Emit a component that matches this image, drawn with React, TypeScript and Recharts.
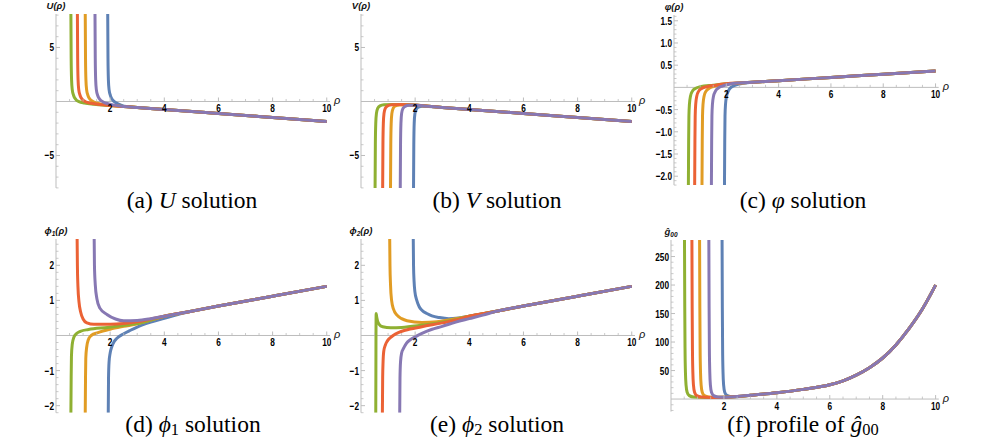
import React from 'react';
import { LineChart, Line, XAxis, YAxis, ReferenceLine, ReferenceDot } from 'recharts';

// ---------- colours ----------
const BLUE = '#5E81B5';
const ORANGE = '#E19C24';
const GREEN = '#8FB032';
const RED = '#EB6235';
const PURPLE = '#8778B3';
const AXIS = '#bdbdbd';

// ---------- tick labels ----------
const X_MAJOR = [2, 4, 6, 8, 10];
const Y_MAJOR_UV = [-5, 5];
const Y_MAJOR_PHI = [-2.0, -1.5, -1.0, -0.5, 0.5, 1.0, 1.5];
const Y_MAJOR_F = [-2, -1, 1, 2];
const Y_MAJOR_G = [50, 100, 150, 200, 250];

// ---------- (a) U ----------
const U_TAIL = [[3, -0.55], [4, -0.74], [6, -1.11], [8, -1.48], [10, -1.85]];
const U_BLUE = [[1.91, 8.1], [1.92, 4], [1.935, 2], [1.96, 1.1], [2.01, 0.55], [2.09, 0.15], [2.21, -0.12], [2.4, -0.33], [2.6, -0.47]];
const U_ORANGE = [[1.08, 8.1], [1.09, 4], [1.105, 2], [1.13, 1.1], [1.18, 0.55], [1.26, 0.2], [1.38, -0.03], [1.6, -0.2], [2, -0.37], [2.5, -0.46]];
const U_GREEN = [[0.55, 8.1], [0.56, 4], [0.575, 2], [0.6, 1.1], [0.65, 0.55], [0.73, 0.2], [0.85, -0.02], [1.05, -0.15], [1.4, -0.26], [2, -0.37], [2.5, -0.46]];
const U_RED = [[0.79, 8.1], [0.8, 4], [0.815, 2], [0.84, 1.1], [0.89, 0.55], [0.97, 0.2], [1.09, -0.02], [1.3, -0.16], [1.6, -0.28], [2, -0.37], [2.5, -0.46]];
const U_PURPLE = [[1.44, 8.1], [1.45, 4], [1.465, 2], [1.49, 1.1], [1.54, 0.55], [1.62, 0.2], [1.74, -0.04], [1.95, -0.22], [2.2, -0.36], [2.5, -0.46]];

// ---------- (b) V ----------
const V_TAIL = [[3, -0.55], [4, -0.74], [6, -1.11], [8, -1.48], [10, -1.85]];
const V_BLUE = [[1.94, -8], [1.95, -4], [1.965, -2], [1.99, -1.15], [2.04, -0.72], [2.12, -0.52], [2.27, -0.44], [2.5, -0.46]];
const V_ORANGE = [[1.09, -8], [1.1, -4], [1.115, -2], [1.14, -1.1], [1.19, -0.62], [1.27, -0.41], [1.42, -0.32], [1.7, -0.3], [2, -0.34], [2.5, -0.45]];
const V_GREEN = [[0.52, -8], [0.53, -4], [0.545, -2], [0.57, -1.1], [0.62, -0.62], [0.7, -0.4], [0.85, -0.3], [1.2, -0.27], [1.6, -0.28], [2, -0.33], [2.5, -0.45]];
const V_RED = [[0.8, -8], [0.81, -4], [0.825, -2], [0.85, -1.1], [0.9, -0.62], [0.98, -0.4], [1.13, -0.3], [1.45, -0.27], [2, -0.33], [2.5, -0.45]];
const V_PURPLE = [[1.45, -8], [1.46, -4], [1.475, -2], [1.5, -1.1], [1.55, -0.65], [1.63, -0.45], [1.78, -0.36], [2.05, -0.35], [2.5, -0.45]];

// ---------- (c) varphi ----------
const P_TAIL = [[3, 0.115], [4, 0.15], [6, 0.225], [8, 0.295], [10, 0.37]];
const P_BLUE = [[1.93, -2.2], [1.94, -1.2], [1.95, -0.65], [1.97, -0.38], [2.01, -0.2], [2.08, -0.08], [2.18, 0.0], [2.35, 0.05], [2.6, 0.09]];
const P_ORANGE = [[1.07, -2.2], [1.08, -1.2], [1.09, -0.65], [1.11, -0.38], [1.15, -0.2], [1.22, -0.09], [1.32, -0.03], [1.5, 0.02], [1.8, 0.06], [2.1, 0.08], [2.5, 0.1]];
const P_GREEN = [[0.55, -2.2], [0.56, -1.2], [0.57, -0.65], [0.59, -0.38], [0.63, -0.2], [0.7, -0.09], [0.8, -0.03], [1, 0.015], [1.5, 0.05], [2, 0.08], [2.5, 0.1]];
const P_RED = [[0.79, -2.2], [0.8, -1.2], [0.81, -0.65], [0.83, -0.38], [0.87, -0.2], [0.94, -0.09], [1.04, -0.03], [1.25, 0.015], [1.6, 0.05], [2, 0.08], [2.5, 0.1]];
const P_PURPLE = [[1.43, -2.2], [1.44, -1.2], [1.45, -0.65], [1.47, -0.38], [1.51, -0.2], [1.58, -0.09], [1.68, -0.02], [1.85, 0.03], [2.1, 0.07], [2.5, 0.1]];

// ---------- (d) phi_1 ----------
const F1_TAIL = [[4, 0.55], [5, 0.69], [6, 0.84], [8, 1.12], [10, 1.4]];
const F1_BLUE = [[1.93, -2.2], [1.94, -1.2], [1.96, -0.75], [2.0, -0.5], [2.06, -0.32], [2.15, -0.17], [2.25, -0.08], [2.5, 0.05], [2.75, 0.15], [3, 0.24], [3.5, 0.38], [4, 0.49], [4.5, 0.6], [5, 0.69], [6, 0.84], [8, 1.12], [10, 1.4]];
const F1_ORANGE = [[1.08, -2.2], [1.09, -1.2], [1.1, -0.65], [1.13, -0.35], [1.19, -0.13], [1.3, 0.0], [1.55, 0.08], [2, 0.18], [2.5, 0.26], [3, 0.33], [3.5, 0.44]];
const F1_GREEN = [[0.55, -2.2], [0.56, -1.2], [0.57, -0.6], [0.6, -0.25], [0.66, -0.05], [0.75, 0.05], [0.9, 0.12], [1.2, 0.17], [1.9, 0.23], [2.5, 0.29], [3, 0.34], [3.5, 0.44]];
const F1_RED = [[0.78, 2.75], [0.79, 2.0], [0.81, 1.4], [0.85, 0.95], [0.91, 0.67], [1.0, 0.47], [1.14, 0.36], [1.4, 0.32], [2, 0.32], [2.5, 0.34], [3, 0.39], [3.5, 0.47]];
const F1_PURPLE = [[1.41, 2.75], [1.42, 2.0], [1.45, 1.45], [1.51, 1.05], [1.62, 0.78], [1.88, 0.6], [2.2, 0.47], [2.5, 0.42], [3, 0.43], [3.5, 0.48]];

// ---------- (e) phi_2 ----------
const F2_TAIL = [[4, 0.55], [5, 0.69], [6, 0.84], [8, 1.12], [10, 1.4]];
const F2_BLUE = [[1.93, 2.75], [1.94, 2.0], [1.96, 1.55], [1.99, 1.25], [2.06, 1.0], [2.15, 0.82], [2.25, 0.72], [2.45, 0.62], [2.62, 0.56], [2.9, 0.51], [3.24, 0.48], [3.6, 0.5]];
const F2_ORANGE = [[1.06, 2.75], [1.07, 2.0], [1.09, 1.45], [1.13, 1.0], [1.2, 0.75], [1.33, 0.58], [1.5, 0.48], [1.7, 0.42], [2.25, 0.37], [2.8, 0.39], [3.3, 0.45]];
const F2_GREEN = [[0.545, -2.2], [0.55, -1.0], [0.553, 0.0], [0.556, 0.45], [0.56, 0.63], [0.575, 0.55], [0.61, 0.42], [0.67, 0.32], [0.8, 0.25], [1.1, 0.22], [1.5, 0.23], [2.2, 0.29], [3, 0.38], [3.5, 0.46]];
const F2_RED = [[0.79, -2.2], [0.8, -1.2], [0.815, -0.75], [0.84, -0.45], [0.9, -0.27], [0.97, -0.16], [1.07, -0.07], [1.2, 0.01], [1.4, 0.09], [1.63, 0.15], [2.25, 0.25], [3, 0.36], [3.5, 0.44]];
const F2_PURPLE = [[1.43, -2.2], [1.44, -1.2], [1.46, -0.75], [1.5, -0.5], [1.57, -0.37], [1.67, -0.23], [1.82, -0.12], [2.0, -0.04], [2.25, 0.06], [2.6, 0.17], [3, 0.26], [3.5, 0.38], [4, 0.48], [4.5, 0.58], [5, 0.69], [6, 0.84], [8, 1.12], [10, 1.4]];

// ---------- (f) g00 ----------
const G_TAIL = [[3, 6.5], [4, 11], [5, 17], [6, 25], [6.5, 32], [7, 42], [7.5, 55], [8, 72], [8.5, 95], [9, 124], [9.5, 158], [10, 200]];
const G_BLUE = [[1.93, 279], [1.94, 160], [1.95, 90], [1.965, 48], [1.99, 24], [2.03, 12], [2.11, 6.5], [2.28, 4.2], [2.6, 4.6]];
const G_ORANGE = [[1.08, 279], [1.09, 160], [1.1, 90], [1.115, 48], [1.14, 24], [1.18, 12], [1.26, 6], [1.43, 3.5], [1.8, 3], [2.5, 4.5]];
const G_GREEN = [[0.51, 279], [0.52, 160], [0.53, 90], [0.545, 48], [0.57, 24], [0.61, 12], [0.69, 6], [0.86, 3.5], [1.3, 2.8], [2, 3.2], [2.5, 4.5]];
const G_RED = [[0.79, 279], [0.8, 160], [0.81, 90], [0.825, 48], [0.85, 24], [0.89, 12], [0.97, 6], [1.14, 3.5], [1.5, 2.9], [2, 3.2], [2.5, 4.5]];
const G_PURPLE = [[1.43, 279], [1.44, 160], [1.45, 90], [1.465, 48], [1.49, 24], [1.53, 12], [1.61, 6], [1.78, 3.6], [2.1, 3.3], [2.5, 4.5]];

type Series = { data: number[][]; color: string };
const pts = (a: number[][]) => a.map(([x, y]) => ({ x, y }));

const range = (a: number, b: number, s: number) => {
  const out: number[] = [];
  const n = Math.round((b - a) / s);
  for (let i = 0; i <= n; i++) out.push(Math.round((a + i * s) * 1000) / 1000);
  return out;
};

const TICK_FONT: React.CSSProperties = {
  fontFamily: "'Liberation Sans', Arial, sans-serif",
  fontWeight: 'bold',
  fontSize: 11.5,
  fill: '#000',
};
const TITLE_FONT: React.CSSProperties = {
  fontFamily: "'Liberation Sans', Arial, sans-serif",
  fontWeight: 'bold',
  fontStyle: 'italic',
  fontSize: 9.5,
  fill: '#111',
};

const fmtMinus = (s: string) => s.replace('-', '\u2212');

interface PanelProps {
  x0: number; top: number; w: number; h: number;
  xMax: number; yMin: number; yMax: number;
  yMajor: number[]; yMinorStep: number; yDigits: number;
  title: React.ReactNode; series: Series[];
}

const ML = 40, MR = 22, MT = 22, MB = 14;

function Panel({ x0, top, w, h, xMax, yMin, yMax, yMajor, yMinorStep, yDigits, title, series }: PanelProps) {
  const xMinor = range(0.5, 10, 0.5).filter((v) => !X_MAJOR.includes(v));
  const yMinor = range(Math.ceil(yMin / yMinorStep) * yMinorStep, yMax, yMinorStep).filter(
    (v) => Math.abs(v) > 1e-9 && v >= yMin && v <= yMax && !yMajor.some((m) => Math.abs(m - v) < 1e-9)
  );
  return (
    <div style={{ position: 'absolute', left: x0 - ML, top: top - MT }}>
      <LineChart width={w + ML + MR} height={h + MT + MB} margin={{ top: MT, right: MR, bottom: MB, left: ML }}>
        <XAxis type="number" dataKey="x" domain={[0, xMax]} hide allowDataOverflow />
        <YAxis type="number" dataKey="y" domain={[yMin, yMax]} hide allowDataOverflow />
        <ReferenceLine y={0} stroke={AXIS} strokeWidth={1} />
        <ReferenceLine x={0} stroke={AXIS} strokeWidth={1} />
        {xMinor.map((t) => (
          <ReferenceDot key={'xm' + t} x={t} y={0} r={0} shape={(p: any) => (
            <line x1={p.cx} x2={p.cx} y1={p.cy} y2={p.cy - 2.5} stroke={AXIS} strokeWidth={0.8} />
          )} />
        ))}
        {yMinor.map((t) => (
          <ReferenceDot key={'ym' + t} x={0} y={t} r={0} shape={(p: any) => (
            <line x1={p.cx} x2={p.cx + 2.5} y1={p.cy} y2={p.cy} stroke={AXIS} strokeWidth={0.8} />
          )} />
        ))}
        {series.map((s, i) => (
          <Line key={i} data={pts(s.data)} dataKey="y" type="monotone" stroke={s.color} strokeWidth={3}
            dot={false} activeDot={false} isAnimationActive={false} />
        ))}
        {X_MAJOR.map((t) => (
          <ReferenceDot key={'xM' + t} x={t} y={0} r={0} shape={(p: any) => (
            <g>
              <line x1={p.cx} x2={p.cx} y1={p.cy} y2={p.cy - 4} stroke={AXIS} strokeWidth={1} />
              <text transform={`translate(${p.cx} ${p.cy + 10.5}) scale(0.72 1)`} textAnchor="middle" style={TICK_FONT}>{String(t)}</text>
            </g>
          )} />
        ))}
        {yMajor.map((t) => (
          <ReferenceDot key={'yM' + t} x={0} y={t} r={0} shape={(p: any) => (
            <g>
              <line x1={p.cx} x2={p.cx + 4} y1={p.cy} y2={p.cy} stroke={AXIS} strokeWidth={1} />
              <text transform={`translate(${p.cx - 2} ${p.cy + 4}) scale(0.72 1)`} textAnchor="end" style={TICK_FONT}>{fmtMinus(t.toFixed(yDigits))}</text>
            </g>
          )} />
        ))}
        <ReferenceDot x={xMax} y={0} r={0} shape={(p: any) => (
          <text x={p.cx + 4} y={p.cy + 3} style={{ ...TITLE_FONT, fontWeight: 'normal', fontSize: 11 }}>ρ</text>
        )} />
        <ReferenceDot x={0} y={yMax} r={0} shape={(p: any) => (
          <text x={p.cx} y={p.cy - 5} textAnchor="middle" style={TITLE_FONT}>{title}</text>
        )} />
      </LineChart>
    </div>
  );
}

const CAP: React.CSSProperties = {
  position: 'absolute',
  width: 320,
  textAlign: 'center',
  fontFamily: "'Liberation Serif', 'Times New Roman', Times, serif",
  fontSize: 23.5,
  lineHeight: '18px',
  color: '#000',
  whiteSpace: 'nowrap',
};
const SUB: React.CSSProperties = { fontSize: '0.7em', position: 'relative', top: '0.2em' };

function Caption({ cx, cy, children }: { cx: number; cy: number; children: React.ReactNode }) {
  return <div style={{ ...CAP, left: cx - 160, top: cy - 9 }}>{children}</div>;
}

const order = (b: number[][], o: number[][], g: number[][], r: number[][], p: number[][]): Series[] => [
  { data: b, color: BLUE },
  { data: o, color: ORANGE },
  { data: g, color: GREEN },
  { data: r, color: RED },
  { data: p, color: PURPLE },
];

export default function App() {
  const A = order([...U_BLUE, ...U_TAIL], [...U_ORANGE, ...U_TAIL], [...U_GREEN, ...U_TAIL], [...U_RED, ...U_TAIL], [...U_PURPLE, ...U_TAIL]);
  const B = order([...V_BLUE, ...V_TAIL], [...V_ORANGE, ...V_TAIL], [...V_GREEN, ...V_TAIL], [...V_RED, ...V_TAIL], [...V_PURPLE, ...V_TAIL]);
  const C = order([...P_BLUE, ...P_TAIL], [...P_ORANGE, ...P_TAIL], [...P_GREEN, ...P_TAIL], [...P_RED, ...P_TAIL], [...P_PURPLE, ...P_TAIL]);
  const D = order(F1_BLUE, [...F1_ORANGE, ...F1_TAIL], [...F1_GREEN, ...F1_TAIL], [...F1_RED, ...F1_TAIL], [...F1_PURPLE, ...F1_TAIL]);
  const E = order([...F2_BLUE, ...F2_TAIL], [...F2_ORANGE, ...F2_TAIL], [...F2_GREEN, ...F2_TAIL], [...F2_RED, ...F2_TAIL], F2_PURPLE);
  const F = order([...G_BLUE, ...G_TAIL], [...G_ORANGE, ...G_TAIL], [...G_GREEN, ...G_TAIL], [...G_RED, ...G_TAIL], [...G_PURPLE, ...G_TAIL]);

  return (
    <div style={{ position: 'absolute', left: 0, top: 0, width: 996, height: 438, background: '#fff' }}>
      <Panel x0={55.8} top={13.5} w={274} h={173.9} xMax={10.12} yMin={-8} yMax={8.1}
        yMajor={Y_MAJOR_UV} yMinorStep={1} yDigits={0} title={<>U(ρ)</>} series={A} />
      <Panel x0={360.8} top={13.5} w={274} h={173.9} xMax={10.12} yMin={-8} yMax={8.1}
        yMajor={Y_MAJOR_UV} yMinorStep={1} yDigits={0} title={<>V(ρ)</>} series={B} />
      <Panel x0={674.4} top={14.9} w={264.7} h={170.1} xMax={10.12} yMin={-2.2} yMax={1.63}
        yMajor={Y_MAJOR_PHI} yMinorStep={0.1} yDigits={1} title={<>φ(ρ)</>} series={C} />
      <Panel x0={55.8} top={238.8} w={274} h={173.7} xMax={10.12} yMin={-2.2} yMax={2.75}
        yMajor={Y_MAJOR_F} yMinorStep={0.2} yDigits={0}
        title={<>ϕ<tspan fontSize={6.5} dy={2}>1</tspan><tspan dy={-2}>(ρ)</tspan></>} series={D} />
      <Panel x0={360.8} top={238.8} w={274} h={173.7} xMax={10.12} yMin={-2.2} yMax={2.75}
        yMajor={Y_MAJOR_F} yMinorStep={0.2} yDigits={0}
        title={<>ϕ<tspan fontSize={6.5} dy={2}>2</tspan><tspan dy={-2}>(ρ)</tspan></>} series={E} />
      <Panel x0={671.4} top={240} w={267.8} h={171.6} xMax={10.12} yMin={-22} yMax={279}
        yMajor={Y_MAJOR_G} yMinorStep={10} yDigits={0}
        title={<>ĝ<tspan fontSize={6.5} dy={2}>00</tspan></>} series={F} />

      <Caption cx={192} cy={200}>(a) <i>U</i> solution</Caption>
      <Caption cx={497} cy={200}>(b) <i>V</i> solution</Caption>
      <Caption cx={803} cy={200}>(c) <i>φ</i> solution</Caption>
      <Caption cx={193} cy={424}>(d) <i>ϕ</i><span style={SUB}>1</span> solution</Caption>
      <Caption cx={497} cy={424}>(e) <i>ϕ</i><span style={SUB}>2</span> solution</Caption>
      <Caption cx={803} cy={424}>(f) profile of <i>ĝ</i><span style={SUB}>00</span></Caption>
    </div>
  );
}
